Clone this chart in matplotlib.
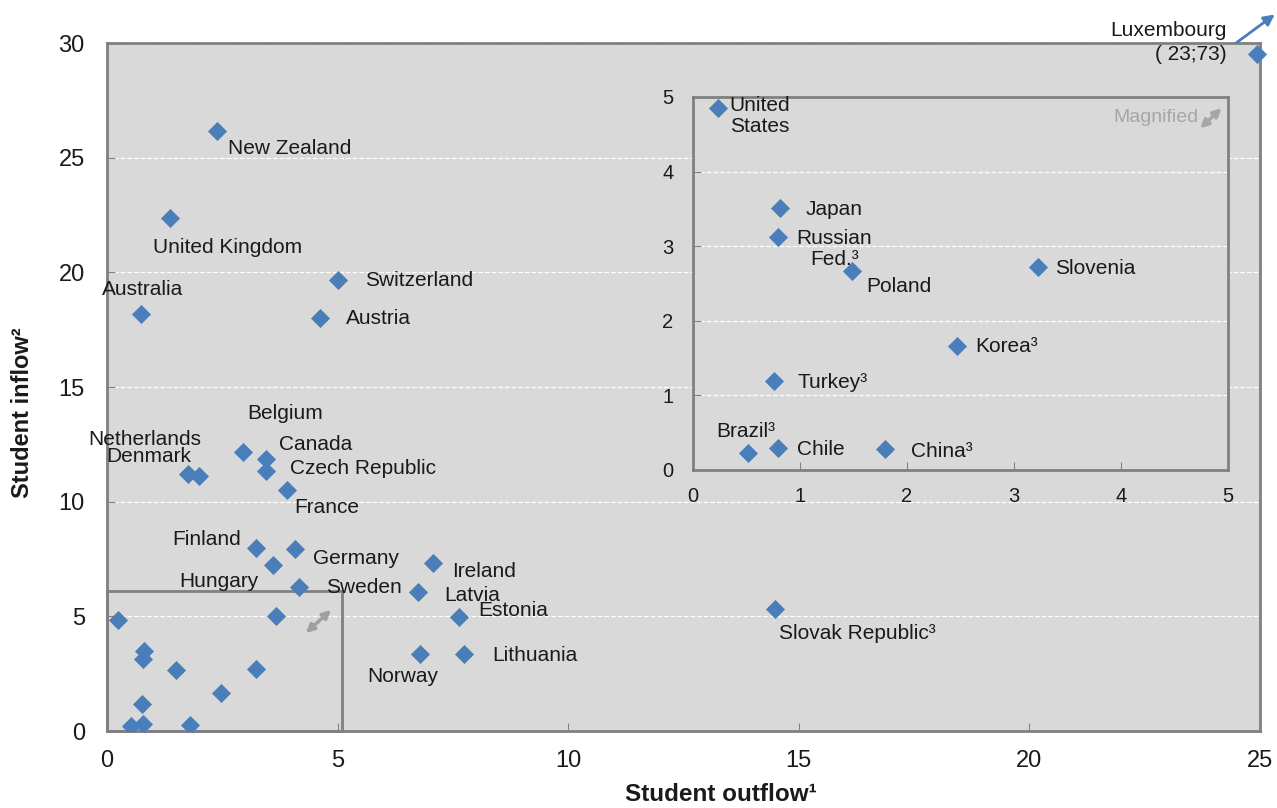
import matplotlib
matplotlib.use("Agg")
import matplotlib.pyplot as plt
from matplotlib.patches import Rectangle
from matplotlib.transforms import offset_copy

plt.rcParams['font.family'] = ['Liberation Sans', 'DejaVu Sans']

# Main chart: countries with outflow / inflow (%)
main_names = ["New Zealand", "United Kingdom", "Switzerland", "Australia", "Austria",
              "Belgium", "Canada", "Czech Republic", "France", "Netherlands", "Denmark",
              "Finland", "Germany", "Hungary", "Sweden", "", "Ireland", "Latvia",
              "Estonia", "Norway", "Lithuania", "Slovak Republic\u00b3"]
main_outflow = [2.39, 1.37, 5.01, 0.74, 4.62,
                2.95, 3.45, 3.45, 3.90, 1.76, 1.99,
                3.23, 4.08, 3.60, 4.16, 3.66, 7.07, 6.74,
                7.63, 6.79, 7.74, 14.48]
main_inflow = [26.17, 22.37, 19.67, 18.19, 18.01,
               12.17, 11.86, 11.34, 10.51, 11.21, 11.12,
               7.98, 7.94, 7.24, 6.28, 5.02, 7.33, 6.06,
               4.97, 3.36, 3.36, 5.32]

# Luxembourg is off the scale (23;73), drawn at the corner
lux_outflow = 24.93
lux_inflow = 29.5

# Countries shown in the magnified panel
small_names = ["United\nStates", "Japan", "Russian\nFed.\u00b3", "Poland", "Slovenia",
               "Korea\u00b3", "Turkey\u00b3", "Brazil\u00b3", "Chile", "China\u00b3"]
small_outflow = [0.23, 0.81, 0.79, 1.49, 3.22, 2.47, 0.76, 0.51, 0.79, 1.79]
small_inflow = [4.85, 3.51, 3.12, 2.67, 2.72, 1.66, 1.19, 0.23, 0.29, 0.28]

main_ticks_x = [0, 5, 10, 15, 20, 25]
main_ticks_y = [0, 5, 10, 15, 20, 25, 30]
inset_ticks = [0, 1, 2, 3, 4, 5]

# label offsets in pixels (dx, dy)
main_offsets = {
    "New Zealand": (11, -18), "United Kingdom": (-17, -30), "Switzerland": (27, -1),
    "Australia": (-39, 24), "Austria": (26, -1), "Belgium": (4, 38), "Canada": (13, 15),
    "Czech Republic": (24, 2), "France": (7, -18), "Netherlands": (-100, 34),
    "Denmark": (-93, 19), "Finland": (-84, 8), "Germany": (18, -10), "Hungary": (-94, -17),
    "Sweden": (27, -1), "Ireland": (19, -9), "Latvia": (26, -3), "Estonia": (19, 7),
    "Norway": (-53, -23), "Lithuania": (28, -2), "Slovak Republic\u00b3": (4, -25),
}
small_offsets = {
    "United\nStates": (12, -8), "Japan": (26, -1), "Russian\nFed.\u00b3": (19, -12),
    "Poland": (14, -16), "Slovenia": (18, -1), "Korea\u00b3": (18, 0),
    "Turkey\u00b3": (23, -1), "Brazil\u00b3": (-31, 21), "Chile": (19, -1), "China\u00b3": (26, -2),
}

BLUE = "#4a7ebb"
BG = "#d9d9d9"
EDGE = "#808080"
TXT = "#1a1a1a"
FS = 15

W, H = 1277, 808
fig = plt.figure(figsize=(W / 100, H / 100), dpi=100)


def px_axes(left, top, right, bottom):
    return fig.add_axes([left / W, 1 - bottom / H, (right - left) / W, (bottom - top) / H])


def style(ax, xt, yt, ylim, xlim, fs, xpad, ypad):
    ax.set_facecolor(BG)
    ax.set_xlim(*xlim)
    ax.set_ylim(*ylim)
    ax.set_xticks(xt)
    ax.set_yticks(yt)
    ax.tick_params(direction='in', length=6, color=EDGE, labelsize=fs, labelcolor=TXT)
    ax.tick_params(axis='x', pad=xpad)
    ax.tick_params(axis='y', pad=ypad)
    for s in ax.spines.values():
        s.set_color(EDGE)
        s.set_linewidth(2)
    ax.grid(axis='y', color='white', linestyle='--', linewidth=0.9)
    ax.set_axisbelow(True)


ax = px_axes(107, 43, 1260, 731)
style(ax, main_ticks_x, main_ticks_y, (0, 30), (0, 25), 17, 14, 16)

ax.scatter(main_outflow, main_inflow, marker='D', s=95, color=BLUE, zorder=3, linewidths=0)
ax.scatter(small_outflow, small_inflow, marker='D', s=95, color=BLUE, zorder=3, linewidths=0)
ax.scatter([lux_outflow], [lux_inflow], marker='D', s=95, color=BLUE, zorder=3,
           linewidths=0, clip_on=False)

for name, x, y in zip(main_names, main_outflow, main_inflow):
    if not name:
        continue
    dx, dy = main_offsets[name]
    ax.annotate(name, (x, y), xytext=(dx, dy), textcoords='offset pixels',
                ha='left', va='center', fontsize=FS, color=TXT)

ax.annotate("Luxembourg\n( 23;73)", (lux_outflow, lux_inflow), xytext=(-30, 12),
            textcoords='offset pixels', ha='right', va='center', multialignment='right',
            fontsize=FS, color=TXT, linespacing=1.3, annotation_clip=False)
tip = offset_copy(ax.transData, fig=fig, x=18, y=40, units='dots')
ax.annotate("", (lux_outflow, lux_inflow), xycoords=tip, xytext=(-38, -28),
            textcoords='offset pixels', annotation_clip=False,
            arrowprops=dict(arrowstyle='-|>', color=BLUE, lw=2, mutation_scale=16,
                            shrinkA=0, shrinkB=0))

# zoom box and arrow
ax.add_patch(Rectangle((0, 0), 5.1, 6.1, fill=False, edgecolor=EDGE, lw=2, zorder=2,
                       clip_on=False))
ax.annotate("", (4.86, 5.28), xytext=(4.31, 4.27),
            arrowprops=dict(arrowstyle='<|-|>', color='#a0a0a0', lw=2.5, mutation_scale=12,
                            shrinkA=0, shrinkB=0))

ax.set_xlabel("Student outflow\u00b9", fontsize=17.5, fontweight='bold', color=TXT)
ax.set_ylabel("Student inflow\u00b2", fontsize=17, fontweight='bold', color=TXT)
ax.xaxis.set_label_coords(0.532, -0.0916)
ax.xaxis.label.set_va('center')
ax.yaxis.set_label_coords(-0.0729, 0.462)
ax.yaxis.label.set_va('center')

# magnified panel
ins = px_axes(693, 97, 1228, 470)
style(ins, inset_ticks, inset_ticks, (0, 5), (0, 5), 14.5, 12, 14)
ins.scatter(small_outflow, small_inflow, marker='D', s=95, color=BLUE, zorder=3, linewidths=0)
for name, x, y in zip(small_names, small_outflow, small_inflow):
    dx, dy = small_offsets[name]
    ins.annotate(name, (x, y), xytext=(dx, dy), textcoords='offset pixels',
                 ha='left', va='center', multialignment='center', fontsize=FS, color=TXT,
                 linespacing=1.1)

ins.text(4.72, 4.73, "Magnified", ha='right', va='center', fontsize=14, color='#a6a6a6')
ins.annotate("", (4.94, 4.85), xytext=(4.74, 4.58),
             arrowprops=dict(arrowstyle='<|-|>', color='#a6a6a6', lw=2.5, mutation_scale=12,
                             shrinkA=0, shrinkB=0))

fig.savefig("out.png", dpi=100, facecolor='white')
